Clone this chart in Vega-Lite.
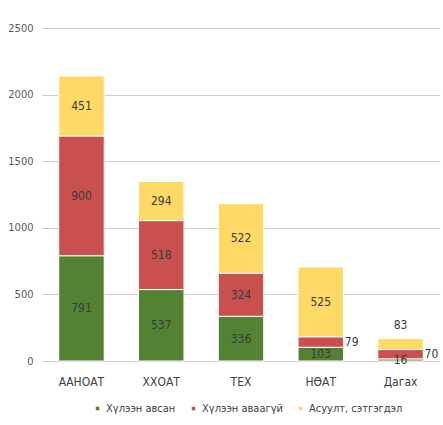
{
  "$schema": "https://vega.github.io/schema/vega-lite/v6.json",
  "autosize": "none",
  "width": 398,
  "height": 346,
  "padding": {"left": 42, "top": 15, "right": 3, "bottom": 64},
  "background": "white",
  "config": {
    "view": {"stroke": null},
    "font": "DejaVu Sans Condensed, Liberation Sans",
    "axis": {"labelFont": "DejaVu Sans Condensed, Liberation Sans", "labelColor": "#404040"},
    "legend": {"labelFont": "DejaVu Sans Condensed, Liberation Sans", "labelColor": "#404040"}
  },
  "data": {
    "values": [
      {"cat": "ААНОАТ", "series": "Хүлээн авсан", "order": 1, "value": 791},
      {"cat": "ААНОАТ", "series": "Хүлээн аваагүй", "order": 2, "value": 900},
      {"cat": "ААНОАТ", "series": "Асуулт, сэтгэгдэл", "order": 3, "value": 451},
      {"cat": "ХХОАТ", "series": "Хүлээн авсан", "order": 1, "value": 537},
      {"cat": "ХХОАТ", "series": "Хүлээн аваагүй", "order": 2, "value": 518},
      {"cat": "ХХОАТ", "series": "Асуулт, сэтгэгдэл", "order": 3, "value": 294},
      {"cat": "ТЕХ", "series": "Хүлээн авсан", "order": 1, "value": 336},
      {"cat": "ТЕХ", "series": "Хүлээн аваагүй", "order": 2, "value": 324},
      {"cat": "ТЕХ", "series": "Асуулт, сэтгэгдэл", "order": 3, "value": 522},
      {"cat": "НӨАТ", "series": "Хүлээн авсан", "order": 1, "value": 103},
      {"cat": "НӨАТ", "series": "Хүлээн аваагүй", "order": 2, "value": 79},
      {"cat": "НӨАТ", "series": "Асуулт, сэтгэгдэл", "order": 3, "value": 525},
      {"cat": "Дагах", "series": "Хүлээн авсан", "order": 1, "value": 16},
      {"cat": "Дагах", "series": "Хүлээн аваагүй", "order": 2, "value": 70},
      {"cat": "Дагах", "series": "Асуулт, сэтгэгдэл", "order": 3, "value": 83}
    ]
  },
  "transform": [
    {"stack": "value", "groupby": ["cat"], "sort": [{"field": "order"}], "as": ["v0", "v1"]},
    {"calculate": "(datum.v0 + datum.v1) / 2", "as": "mid"}
  ],
  "encoding": {
    "x": {
      "field": "cat", "type": "nominal", "sort": null,
      "scale": {"paddingInner": 0.43, "paddingOuter": 0.21},
      "axis": {"title": null, "labelAngle": 0, "ticks": false, "domain": false, "labelFontSize": 12, "labelPadding": 15}
    }
  },
  "layer": [
    {
      "mark": {"type": "bar", "stroke": "white", "strokeWidth": 1},
      "encoding": {
        "y": {
          "field": "v0", "type": "quantitative",
          "scale": {"domain": [0, 2500]},
          "axis": {"title": null, "values": [0, 500, 1000, 1500, 2000, 2500], "format": "d", "tickSize": 0, "labelPadding": 9, "domain": false, "gridColor": "#cccccc", "labelFontSize": 11, "labelColor": "#595959"}
        },
        "y2": {"field": "v1"},
        "color": {
          "field": "series", "type": "nominal",
          "sort": ["Хүлээн авсан", "Хүлээн аваагүй", "Асуулт, сэтгэгдэл"],
          "scale": {"domain": ["Хүлээн авсан", "Хүлээн аваагүй", "Асуулт, сэтгэгдэл"], "range": ["#548235", "#c9504f", "#ffd966"]},
          "legend": {"title": null, "orient": "none", "legendX": 50, "legendY": 388, "direction": "horizontal", "symbolType": "square", "symbolSize": 25, "labelFontSize": 11, "columnPadding": 12, "labelOffset": 3}
        }
      }
    },
    {
      "transform": [
        {"filter": "!((datum.order == 2 && datum.value < 100) || (datum.cat == 'Дагах' && datum.order == 3))"}
      ],
      "mark": {"type": "text", "fontSize": 12, "color": "#3a3a3a", "baseline": "middle"},
      "encoding": {
        "y": {"field": "mid", "type": "quantitative"},
        "text": {"field": "value", "type": "quantitative"}
      }
    },
    {
      "transform": [{"filter": "datum.order == 2 && datum.value < 100"}],
      "mark": {"type": "text", "fontSize": 12, "color": "#3a3a3a", "baseline": "middle", "align": "left", "dx": 24},
      "encoding": {
        "y": {"field": "mid", "type": "quantitative"},
        "text": {"field": "value", "type": "quantitative"}
      }
    },
    {
      "transform": [{"filter": "datum.cat == 'Дагах' && datum.order == 3"}],
      "mark": {"type": "text", "fontSize": 12, "color": "#3a3a3a", "baseline": "middle", "dy": -14},
      "encoding": {
        "y": {"field": "v1", "type": "quantitative"},
        "text": {"field": "value", "type": "quantitative"}
      }
    }
  ]
}
